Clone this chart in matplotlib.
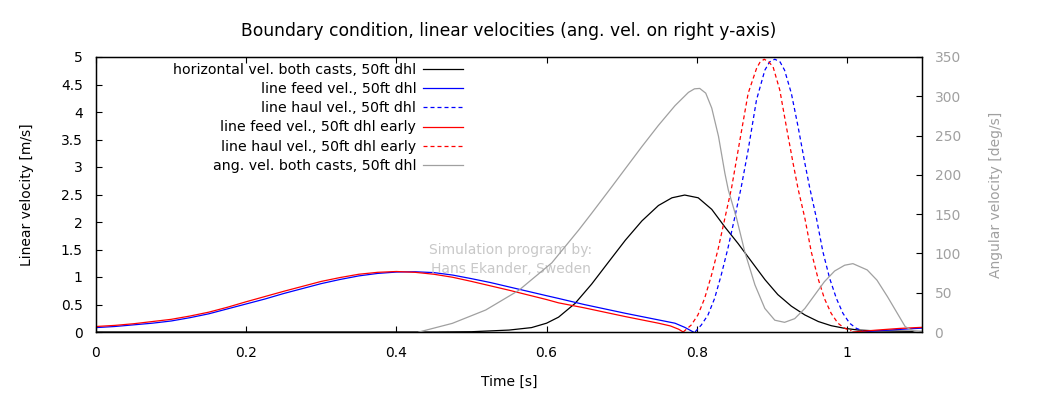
import matplotlib
matplotlib.use("Agg")
import matplotlib.pyplot as plt

# ---------------- data ----------------
t_horiz = [0.0, 0.45, 0.5, 0.55, 0.58, 0.6, 0.616, 0.638, 0.66, 0.683, 0.705, 0.727, 0.749,
           0.767, 0.784, 0.802, 0.82, 0.838, 0.855, 0.873, 0.891, 0.908, 0.926, 0.944,
           0.962, 0.979, 0.997, 1.015, 1.04, 1.07, 1.1]
v_horiz = [0.0, 0.0, 0.005, 0.035, 0.08, 0.16, 0.27, 0.52, 0.87, 1.28, 1.67, 2.02, 2.3,
           2.44, 2.49, 2.44, 2.23, 1.9, 1.61, 1.28, 0.95, 0.68, 0.47, 0.31,
           0.19, 0.115, 0.067, 0.036, 0.02, 0.015, 0.01]

t_feed = [0.0, 0.025, 0.05, 0.075, 0.1, 0.125, 0.15, 0.175, 0.2, 0.225, 0.25, 0.275, 0.3,
          0.325, 0.35, 0.375, 0.4, 0.425, 0.45, 0.475, 0.5, 0.525, 0.55, 0.575, 0.6, 0.616,
          0.65, 0.705, 0.749, 0.771, 0.784, 0.7955]
v_feed = [0.08, 0.1, 0.13, 0.16, 0.2, 0.26, 0.33, 0.42, 0.51, 0.6, 0.7, 0.79, 0.88,
          0.955, 1.02, 1.065, 1.09, 1.095, 1.08, 1.035, 0.97, 0.9, 0.82, 0.74, 0.66, 0.61,
          0.5, 0.34, 0.22, 0.16, 0.085, 0.0]
t_feed_tail = [1.02, 1.05, 1.08, 1.1]
v_feed_tail = [0.0, 0.03, 0.055, 0.07]

t_haul = [0.7977, 0.8061, 0.815, 0.8238, 0.8327, 0.8415, 0.8504, 0.8592, 0.8685, 0.8796,
          0.8907, 0.897, 0.904, 0.911, 0.917, 0.926, 0.935, 0.944, 0.9505, 0.9594,
          0.968, 0.977, 0.986, 0.9947, 1.0036, 1.0125, 1.0215]
v_haul = [0.0, 0.127, 0.31, 0.61, 1.04, 1.52, 2.07, 2.63, 3.31, 4.22,
          4.76, 4.91, 4.96, 4.91, 4.76, 4.34, 3.73, 3.07, 2.62, 2.07,
          1.46, 0.976, 0.61, 0.34, 0.16, 0.067, 0.02]

t_feed_e = [0.0, 0.025, 0.05, 0.075, 0.1, 0.125, 0.15, 0.175, 0.2, 0.225, 0.25, 0.275, 0.3,
            0.325, 0.35, 0.375, 0.4, 0.425, 0.45, 0.475, 0.5, 0.525, 0.55, 0.575, 0.6, 0.616,
            0.65, 0.705, 0.749, 0.765, 0.776, 0.782]
v_feed_e = [0.1, 0.12, 0.15, 0.19, 0.23, 0.29, 0.36, 0.45, 0.55, 0.645, 0.74, 0.83, 0.92,
            0.99, 1.05, 1.085, 1.1, 1.085, 1.05, 0.995, 0.92, 0.84, 0.76, 0.675, 0.59, 0.53,
            0.44, 0.28, 0.16, 0.11, 0.05, 0.0]
t_feed_e_tail = [1.008, 1.04, 1.07, 1.1]
v_feed_e_tail = [0.0, 0.035, 0.065, 0.085]

t_haul_e = [0.782, 0.7927, 0.8016, 0.8105, 0.8198, 0.8287, 0.8375, 0.8464, 0.8575, 0.8685,
            0.8796, 0.884, 0.8898, 0.896, 0.9017, 0.9106, 0.9194, 0.9283, 0.935, 0.944,
            0.9525, 0.9615, 0.970, 0.979, 0.988, 0.997, 1.006]
v_haul_e = [0.0, 0.127, 0.31, 0.61, 1.04, 1.52, 2.07, 2.62, 3.49, 4.34,
            4.79, 4.9, 4.96, 4.91, 4.82, 4.4, 3.73, 3.07, 2.6, 2.07,
            1.46, 0.976, 0.61, 0.34, 0.16, 0.067, 0.02]

t_ang = [0.43, 0.4745, 0.519, 0.563, 0.607, 0.643, 0.66, 0.687, 0.705, 0.727, 0.749, 0.771,
         0.789, 0.797, 0.804, 0.812, 0.82, 0.829, 0.8375, 0.842, 0.853, 0.864, 0.8775,
         0.8907, 0.904, 0.917, 0.9305, 0.944, 0.957, 0.970, 0.9836, 0.997, 1.008, 1.027,
         1.04, 1.054, 1.067, 1.0775, 1.084, 1.09, 1.1]
a_ang = [0, 11, 28, 53, 88, 130, 151, 185, 208, 236, 263, 288,
         305, 309.5, 310, 304, 285, 249, 202, 181, 145, 102, 60,
         30, 15, 12.3, 17, 30, 47, 64, 77.6, 85, 87, 79,
         66, 45, 24, 7, 3.4, 1, 0]

labels = ["horizontal vel. both casts, 50ft dhl",
          "line feed vel., 50ft dhl",
          "line haul vel., 50ft dhl",
          "line feed vel., 50ft dhl early",
          "line haul vel., 50ft dhl early",
          "ang. vel. both casts, 50ft dhl"]

x_ticks = [0, 0.2, 0.4, 0.6, 0.8, 1]
x_tick_labels = ["0", "0.2", "0.4", "0.6", "0.8", "1"]
y_ticks = [0, 0.5, 1, 1.5, 2, 2.5, 3, 3.5, 4, 4.5, 5]
y_tick_labels = ["0", "0.5", "1", "1.5", "2", "2.5", "3", "3.5", "4", "4.5", "5"]
y2_ticks = [0, 50, 100, 150, 200, 250, 300, 350]

# ---------------- style ----------------
plt.rcParams['font.family'] = ["DejaVu Sans"]
GRAY = "#a0a0a0"
dash = (0, (3.2, 2.4))

fig = plt.figure(figsize=(10.39, 3.94), dpi=100)
ax = fig.add_axes([96/1039, 1-332/394, (922-96)/1039, (332-57)/394])
ax2 = ax.twinx()

lw = 0.9
h1, = ax.plot(t_horiz, v_horiz, color="black", lw=lw)
h2, = ax.plot(t_feed, v_feed, color="#0000ff", lw=lw)
ax.plot(t_feed_tail, v_feed_tail, color="#0000ff", lw=lw)
h3, = ax.plot(t_haul, v_haul, color="#0000ff", lw=lw, linestyle=dash)
h4, = ax.plot(t_feed_e, v_feed_e, color="#ff0000", lw=lw)
ax.plot(t_feed_e_tail, v_feed_e_tail, color="#ff0000", lw=lw)
h5, = ax.plot(t_haul_e, v_haul_e, color="#ff0000", lw=lw, linestyle=dash)
h6, = ax2.plot(t_ang, a_ang, color=GRAY, lw=lw)

ax.set_xlim(0, 1.1)
ax.set_ylim(0, 5)
ax2.set_ylim(0, 350)

ax.set_xticks(x_ticks)
ax.set_xticklabels(x_tick_labels)
ax.set_yticks(y_ticks)
ax.set_yticklabels(y_tick_labels)
ax2.set_yticks(y2_ticks)

fs = 10
ax.tick_params(axis='x', direction='in', length=4, top=True, labelsize=fs, pad=10)
ax.tick_params(axis='y', direction='in', length=4, right=False, labelsize=fs, pad=9.5)
ax2.tick_params(axis='y', direction='in', length=4, labelsize=fs, labelcolor=GRAY, pad=9)
for s in ax.spines.values():
    s.set_linewidth(1.0)

ax.set_xlabel("Time [s]", fontsize=fs, labelpad=11)
ax.set_ylabel("Linear velocity [m/s]", fontsize=fs, labelpad=19)
ax2.set_ylabel("Angular velocity [deg/s]", fontsize=fs, color=GRAY, labelpad=20)
ax.set_title("Boundary condition, linear velocities (ang. vel. on right y-axis)",
             fontsize=12.3, pad=15)

ax.text(0.502, 0.2636, "Simulation program by:\nHans Ekander, Sweden",
        transform=ax.transAxes, ha="center", va="center", fontsize=fs,
        color="#c8c8c8", linespacing=1.45)

leg = ax.legend([h1, h2, h3, h4, h5, h6], labels, loc="upper right",
                bbox_to_anchor=((463-96)/826, 0.979), markerfirst=False,
                frameon=False, fontsize=10.2, handlelength=2.8, handletextpad=0.5,
                labelspacing=0.37, borderpad=0, borderaxespad=0)

fig.savefig("out.png", dpi=100)
